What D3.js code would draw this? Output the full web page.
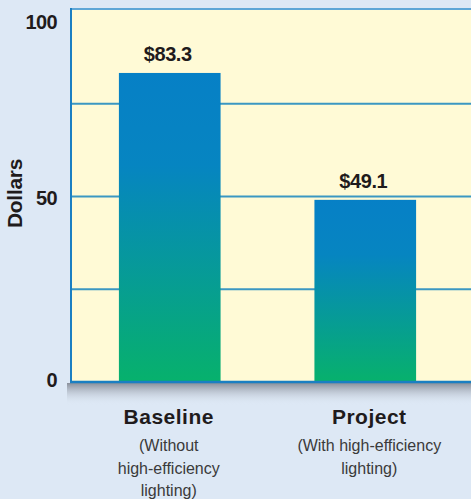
<!DOCTYPE html>
<html>
<head>
<meta charset="utf-8">
<script src="https://cdn.jsdelivr.net/npm/d3@7"></script>
<style>
  html, body { margin: 0; padding: 0; background: #dde8f5; }
  svg { display: block; font-family: "Liberation Sans", Arial, Helvetica, sans-serif; }
</style>
</head>
<body>
<svg id="chart" width="471" height="499"></svg>
<script>
// Chart data.
const categories = ["Baseline", "Project"];
const values = [83.3, 49.1];
const valueLabels = ["$83.3", "$49.1"];
const subLabels = [["(Without", "high-efficiency", "lighting)"], ["(With high-efficiency", "lighting)"]];
const tickValues = [0, 50, 100];
const gridValues = [25, 50, 75];

// Panel edges. (`top` is taken by window.top, hence the prefix.)
const svg = d3.select("#chart"),
    plotLeft = 71,
    plotRight = 471,
    plotTop = 9,
    plotBottom = 382;

// Scales. The top border sits a touch above 100 in the original.
const x = d3.scaleBand()
    .domain(categories)
    .range([plotLeft, 464])
    .paddingInner(0.48)
    .paddingOuter(0.245);

const y = d3.scaleLinear()
    .domain([0, 100])
    .range([plotBottom, 11]);

const defs = svg.append("defs");

// Bar gradient, blue at the top running into green at the base.
const grad = defs.append("linearGradient")
    .attr("id", "barGrad")
    .attr("x1", 0).attr("y1", 0)
    .attr("x2", 0).attr("y2", 1);
grad.append("stop").attr("offset", "0%").attr("stop-color", "#0680c6");
grad.append("stop").attr("offset", "30%").attr("stop-color", "#0685c1");
grad.append("stop").attr("offset", "100%").attr("stop-color", "#07b16c");

// Drop shadow under the plot panel.
const shadow = defs.append("linearGradient")
    .attr("id", "shadowGrad")
    .attr("x1", 0).attr("y1", 0)
    .attr("x2", 0).attr("y2", 1);
shadow.append("stop").attr("offset", "0%").attr("stop-color", "#858a95").attr("stop-opacity", 0.95);
shadow.append("stop").attr("offset", "100%").attr("stop-color", "#dde8f5").attr("stop-opacity", 0);

svg.append("rect")
    .attr("x", plotLeft - 4)
    .attr("y", plotBottom + 1)
    .attr("width", plotRight - plotLeft + 4)
    .attr("height", 22)
    .attr("fill", "url(#shadowGrad)");

// Plot panel.
svg.append("rect")
    .attr("x", plotLeft)
    .attr("y", plotTop)
    .attr("width", plotRight - plotLeft)
    .attr("height", plotBottom - plotTop)
    .attr("fill", "#fffad6");

// Gridlines.
svg.append("g")
    .selectAll("line")
    .data(gridValues)
    .enter()
    .append("line")
    .attr("x1", plotLeft)
    .attr("x2", plotRight)
    .attr("y1", (d) => y(d))
    .attr("y2", (d) => y(d))
    .attr("stroke", "#3b97c2")
    .attr("stroke-width", 2);

// Bars.
svg.append("g")
    .selectAll("rect")
    .data(categories)
    .enter()
    .append("rect")
    .attr("x", (d) => x(d))
    .attr("y", (d, i) => y(values[i]))
    .attr("width", x.bandwidth())
    .attr("height", (d, i) => plotBottom - y(values[i]))
    .attr("fill", "url(#barGrad)");

// Panel border: light top, darker left and bottom.
svg.append("line")
    .attr("x1", plotLeft).attr("x2", plotRight)
    .attr("y1", plotTop).attr("y2", plotTop)
    .attr("stroke", "#5ea6d6").attr("stroke-width", 2);
svg.append("line")
    .attr("x1", plotLeft).attr("x2", plotLeft)
    .attr("y1", plotTop - 1).attr("y2", plotBottom + 1)
    .attr("stroke", "#1b7fc2").attr("stroke-width", 2);
svg.append("line")
    .attr("x1", plotLeft - 1).attr("x2", plotRight)
    .attr("y1", plotBottom).attr("y2", plotBottom)
    .attr("stroke", "#1b7fc2").attr("stroke-width", 2.5);

// Value labels above the bars.
svg.append("g")
    .selectAll("text")
    .data(categories)
    .enter()
    .append("text")
    .attr("x", (d) => x(d) + x.bandwidth() / 2 - 2)
    .attr("y", (d, i) => y(values[i]) - 12)
    .attr("text-anchor", "middle")
    .attr("font-size", 20)
    .attr("font-weight", "bold")
    .attr("letter-spacing", -0.4)
    .attr("fill", "#1f1b1c")
    .text((d, i) => valueLabels[i]);

// Y axis tick labels (no tick marks or domain line in the original).
const yAxis = d3.axisLeft(y)
    .tickValues(tickValues)
    .tickSize(0)
    .tickPadding(14);

const ya = svg.append("g")
    .attr("transform", `translate(${plotLeft},0)`)
    .call(yAxis);
ya.select(".domain").remove();
ya.selectAll("text")
    .attr("font-family", "'Liberation Sans', Arial, sans-serif")
    .attr("font-size", 20)
    .attr("font-weight", "bold")
    .attr("letter-spacing", -0.6)
    .attr("fill", "#1f1b1c")
    .attr("dy", (d) => d == 100 ? "0.85em" : d == 0 ? "0.2em" : "0.4em");

// Y axis title.
svg.append("text")
    .attr("transform", `translate(22,${(plotTop + plotBottom) / 2 - 2}) rotate(-90)`)
    .attr("text-anchor", "middle")
    .attr("font-size", 21)
    .attr("font-weight", "bold")
    .attr("letter-spacing", -0.3)
    .attr("fill", "#1f1b1c")
    .text("Dollars");

// Category labels and their notes.
const cat = svg.append("g")
    .selectAll("g")
    .data(categories)
    .enter()
    .append("g")
    .attr("transform", (d, i) => `translate(${x(d) + x.bandwidth() / 2 + (i ? 4 : -1)},0)`);

cat.append("text")
    .attr("y", 424)
    .attr("text-anchor", "middle")
    .attr("font-size", 21)
    .attr("font-weight", "bold")
    .attr("letter-spacing", 0.5)
    .attr("fill", "#1f1b1c")
    .text((d) => d);

cat.each(function(d, i) {
    d3.select(this)
        .selectAll("text.note")
        .data(subLabels[i])
        .enter()
        .append("text")
        .attr("class", "note")
        .attr("y", (s, j) => 451 + j * 22.5)
        .attr("text-anchor", "middle")
        .attr("font-size", 16)
        .attr("fill", "#3a3a3a")
        .text((s) => s);
});
</script>
</body>
</html>
